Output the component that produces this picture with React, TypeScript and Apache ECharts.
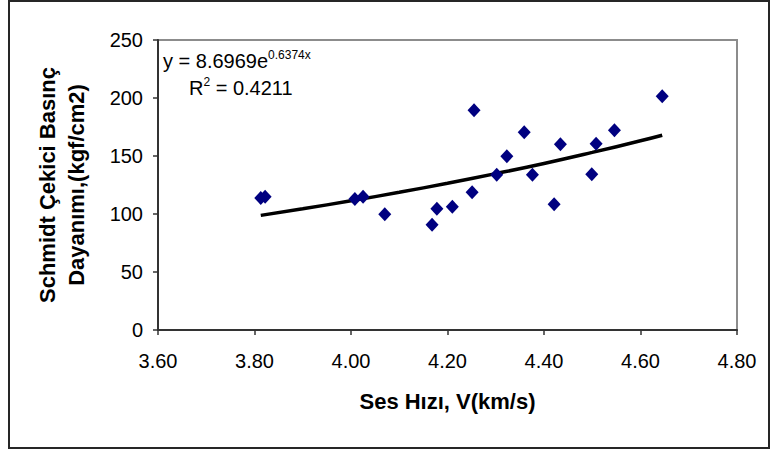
import React, { useEffect, useRef } from "react";
import * as echarts from "echarts";

// Measured points: Ses Hızı V (km/s) vs Schmidt Çekici Basınç Dayanımı (kgf/cm2)
const velocity = [3.813, 3.822, 4.008, 4.025, 4.07, 4.168, 4.178, 4.21, 4.251, 4.255, 4.302, 4.323, 4.359, 4.376, 4.421, 4.434, 4.499, 4.508, 4.546, 4.645];
const strength = [113.8, 114.9, 112.9, 114.9, 99.7, 90.8, 104.6, 106.3, 118.7, 189.4, 133.9, 149.7, 170.4, 133.9, 108.4, 160.1, 134.2, 160.6, 172.2, 201.5];

// Exponential trend line
const trendX = [3.813, 3.9, 4.0, 4.1, 4.2, 4.3, 4.4, 4.5, 4.6, 4.645];
const trendY = [98.8, 104.5, 111.4, 118.7, 126.5, 134.8, 143.6, 153.1, 163.1, 167.9];

const xTicks = { min: 3.6, max: 4.8, interval: 0.2 };
const yTicks = { min: 0, max: 250, interval: 50 };

const equationMain = "y = 8.6969e";
const equationExp = "0.6374x";
const r2Label = "R";
const r2Sup = "2";
const r2Value = " = 0.4211";

const xTitle = "Ses Hızı, V(km/s)";
const yTitle = "Schmidt Çekici Basınç\nDayanımı,(kgf/cm2)";

const FONT = "'Liberation Sans', Arial, sans-serif";

export default function App() {
  const ref = useRef<HTMLDivElement>(null);
  useEffect(() => {
    if (!ref.current) return;
    const chart = echarts.init(ref.current, null, { renderer: "svg" });
    chart.setOption({
      animation: false,
      backgroundColor: "#ffffff",
      textStyle: { fontFamily: FONT },
      grid: {
        left: 158,
        right: 34,
        top: 40,
        bottom: 120,
        show: true,
        borderColor: "#8c8c8c",
        borderWidth: 2,
        backgroundColor: "transparent",
      },
      xAxis: {
        type: "value",
        min: xTicks.min,
        max: xTicks.max,
        interval: xTicks.interval,
        name: xTitle,
        nameLocation: "middle",
        nameGap: 60,
        nameTextStyle: { fontFamily: FONT, fontSize: 22, fontWeight: "bold", color: "#000" },
        axisLine: { show: true, onZero: false, lineStyle: { color: "#333", width: 2 } },
        axisTick: { show: true, inside: false, length: 5, lineStyle: { color: "#333", width: 1.5 } },
        axisLabel: {
          margin: 21,
          fontFamily: FONT,
          fontSize: 20,
          color: "#000",
          formatter: (v: number) => v.toFixed(2),
        },
        splitLine: { show: false },
      },
      yAxis: {
        type: "value",
        min: yTicks.min,
        max: yTicks.max,
        interval: yTicks.interval,
        name: yTitle,
        nameLocation: "middle",
        nameRotate: 90,
        nameGap: 67,
        nameTextStyle: { fontFamily: FONT, fontSize: 22, fontWeight: "bold", color: "#000", lineHeight: 29 },
        axisLine: { show: true, onZero: false, lineStyle: { color: "#333", width: 2 } },
        axisTick: { show: true, inside: false, length: 5, lineStyle: { color: "#333", width: 1.5 } },
        axisLabel: { margin: 15, fontFamily: FONT, fontSize: 20, color: "#000" },
        splitLine: { show: false },
      },
      series: [
        {
          type: "line",
          data: trendX.map((x, i) => [x, trendY[i]]),
          showSymbol: false,
          symbol: "none",
          smooth: true,
          lineStyle: { color: "#000", width: 3.5 },
          z: 2,
        },
        {
          type: "scatter",
          data: velocity.map((x, i) => [x, strength[i]]),
          symbol: "diamond",
          symbolSize: [13, 14],
          itemStyle: { color: "#000080", opacity: 1 },
          z: 3,
        },
      ],
      graphic: [
        {
          type: "rect",
          shape: { x: 9, y: 1, width: 760, height: 447 },
          style: { fill: "none", stroke: "#262626", lineWidth: 2 },
          silent: true,
        },
        {
          type: "text",
          x: 163,
          y: 49,
          style: {
            text: `{n|${equationMain}}{s|${equationExp}}`,
            verticalAlign: "top",
            rich: {
              n: { fontFamily: FONT, fontSize: 20, lineHeight: 22, fill: "#000", verticalAlign: "bottom" },
              s: { fontFamily: FONT, fontSize: 12, lineHeight: 12, fill: "#000", verticalAlign: "top" },
            },
          },
        },
        {
          type: "text",
          x: 189,
          y: 76,
          style: {
            text: `{n|${r2Label}}{s|${r2Sup}}{n|${r2Value}}`,
            verticalAlign: "top",
            rich: {
              n: { fontFamily: FONT, fontSize: 20, lineHeight: 22, fill: "#000", verticalAlign: "bottom" },
              s: { fontFamily: FONT, fontSize: 12, lineHeight: 12, fill: "#000", verticalAlign: "top" },
            },
          },
        },
      ],
    });
    return () => chart.dispose();
  }, []);
  return (
    <div
      ref={ref}
      style={{ position: "fixed", left: 0, top: 0, width: 771, height: 450, background: "#fff" }}
    />
  );
}
